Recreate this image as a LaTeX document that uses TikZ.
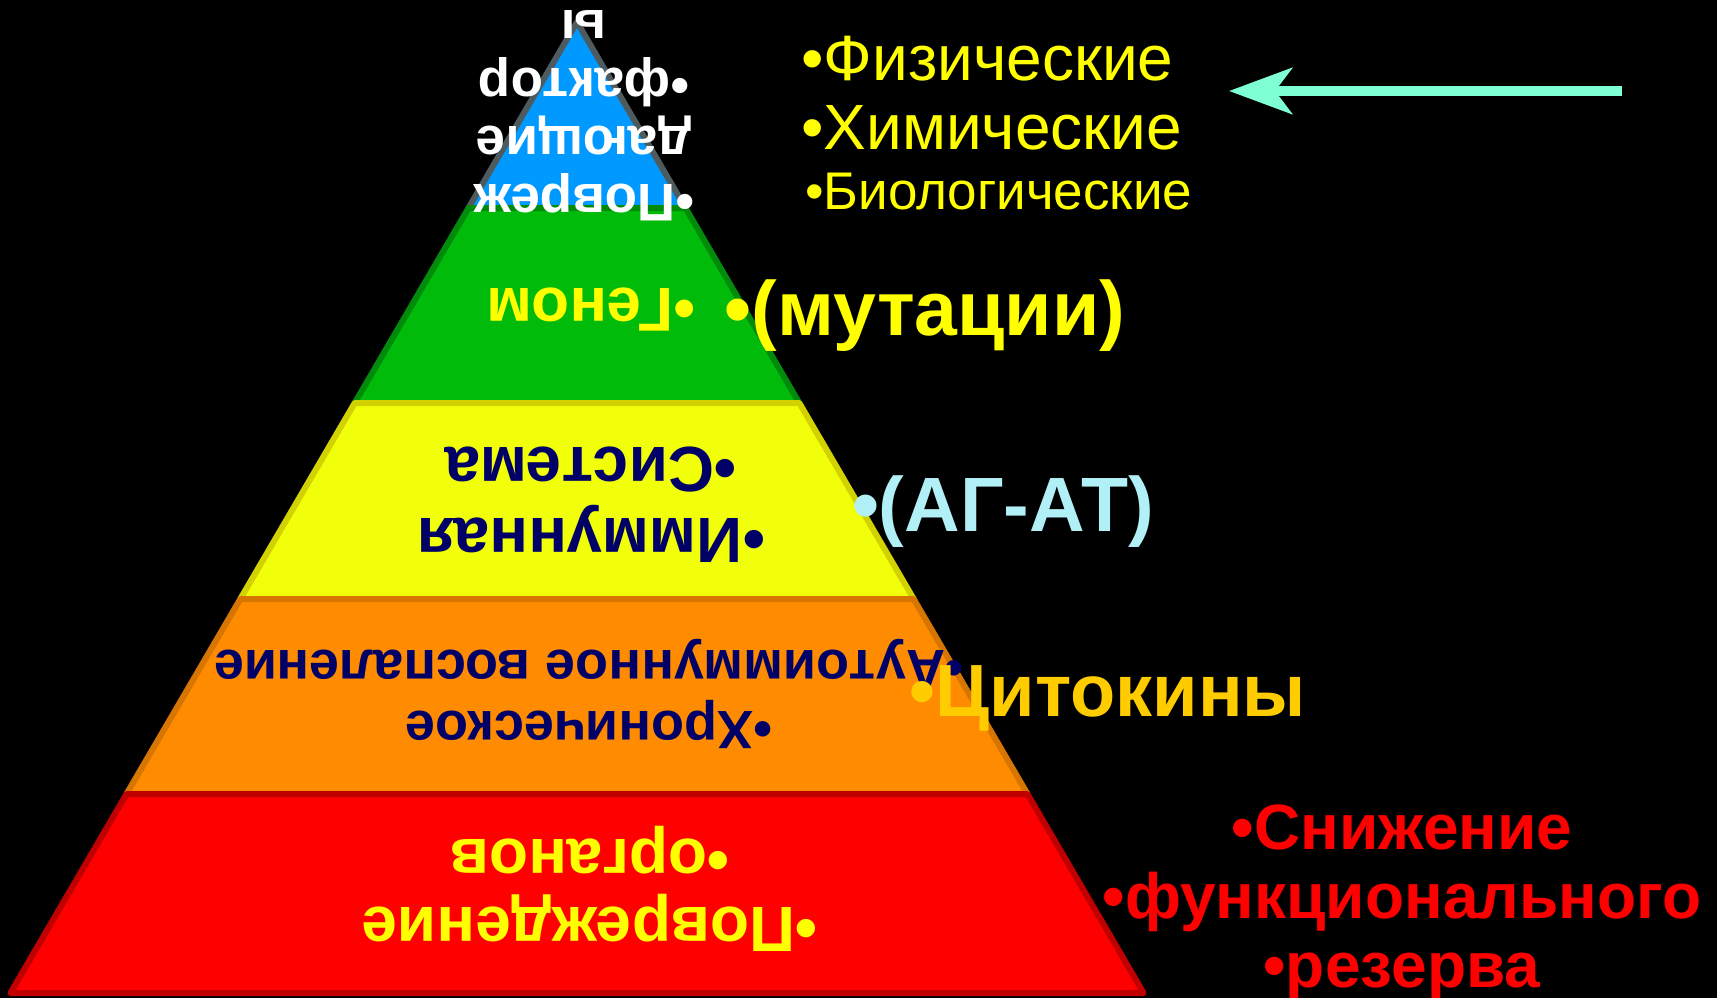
\documentclass[tikz,border=0pt]{standalone}
\usepackage{fontspec}
\setmainfont{Liberation Sans}
\usepackage{xcolor}
\usepackage{tikz}
\usetikzlibrary{arrows.meta}
\definecolor{skyblue}{RGB}{0,153,255}
\definecolor{slategrey}{RGB}{77,90,94}
\definecolor{leafgreen}{RGB}{0,187,10}
\definecolor{darkleaf}{RGB}{0,140,10}
\definecolor{lemonfill}{RGB}{242,255,10}
\definecolor{olivelemon}{RGB}{210,210,0}
\definecolor{orangefill}{RGB}{255,140,0}
\definecolor{darkorange}{RGB}{214,118,0}
\definecolor{redfill}{RGB}{255,0,0}
\definecolor{darkred}{RGB}{192,0,0}
\definecolor{navytext}{RGB}{0,0,102}
\definecolor{lemontext}{RGB}{255,255,0}
\definecolor{paleblue}{RGB}{178,240,247}
\definecolor{goldtext}{RGB}{255,204,0}
\definecolor{aqua}{RGB}{127,255,212}

\begin{document}
\begin{tikzpicture}[x=1pt, y=-1pt,
    layer/.style={line width=6pt, line join=round},
    flip/.style={rotate=180, align=center, inner sep=0pt},
    side/.style={inner sep=0pt, font=\bfseries\fontsize{77}{85}\selectfont}]
  \path[use as bounding box, fill=black] (0,0) rectangle (1717,998);

  % pyramid, top to bottom
  \coordinate (apex) at (577,22);
  \filldraw[layer, fill=skyblue, draw=slategrey]
        (apex) -- (685.5,208) -- (468.5,208) -- cycle;
  \filldraw[layer, fill=leafgreen, draw=darkleaf]
        (468.5,208) -- (685.5,208) -- (799.3,403) -- (354.7,403) -- cycle;
  \filldraw[layer, fill=lemonfill, draw=olivelemon]
        (354.7,403) -- (799.3,403) -- (913.7,599) -- (240.3,599) -- cycle;
  \filldraw[layer, fill=orangefill, draw=darkorange]
        (240.3,599) -- (913.7,599) -- (1027.5,794) -- (126.5,794) -- cycle;
  \filldraw[layer, fill=redfill, draw=darkred]
        (126.5,794) -- (1027.5,794) -- (1143.6,993) -- (10.4,993) -- cycle;

  % upside-down texts in the layers
  \node[flip, text=white, font=\bfseries\fontsize{53}{58}\selectfont]
        (factors) at (584,116) {•Повреж\\дающие\\•фактор\\ы};
  \node[flip, text=lemontext, font=\bfseries\fontsize{62}{69}\selectfont]
        (genome) at (591,310) {•Геном};
  \node[flip, text=navytext, font=\bfseries\fontsize{64}{71}\selectfont]
        (immune) at (591,505) {•Иммунная\\•Система};
  \node[flip, text=navytext, font=\bfseries\fontsize{54}{61}\selectfont]
        (inflam) at (589,694) {•Хроническое\\•Аутоиммунное воспаление};
  \node[flip, text=lemontext, font=\bfseries\fontsize{64}{68}\selectfont]
        (damage) at (590,889) {•Повреждение\\•органов};

  % labels beside the pyramid
  \node[side, text=lemontext] (mutation) at (925,316) {•(мутации)};
  \node[side, text=paleblue] (agat) at (1003,512) {•(АГ-АТ)};
  \node[side, text=goldtext, font=\bfseries\fontsize{74}{82}\selectfont]
        (cytokine) at (1108,698) {•Цитокины};
  \node[text=redfill, align=center, inner sep=0pt,
        font=\bfseries\fontsize{64}{69}\selectfont]
        (reserve) at (1402,903) {•Снижение\\•функционального\\•резерва};

  % factor list and arrow
  \node[anchor=west, inner sep=0pt, text=lemontext, font=\fontsize{64}{69}\selectfont]
        (phys) at (801,59) {•Физические};
  \node[anchor=west, inner sep=0pt, text=lemontext, font=\fontsize{64}{69}\selectfont]
        (chem) at (801,128) {•Химические};
  \node[anchor=west, inner sep=0pt, text=lemontext, font=\fontsize{53}{58}\selectfont]
        (bio) at (805,192) {•Биологические};
  \coordinate (arrowtail) at (1622,91);
  \coordinate (arrowhead) at (1229,91);
  \draw[-{Stealth[length=63pt, width=46pt, inset=17pt]}, line width=10pt, aqua]
        (arrowtail) -- (arrowhead);
\end{tikzpicture}
\end{document}
